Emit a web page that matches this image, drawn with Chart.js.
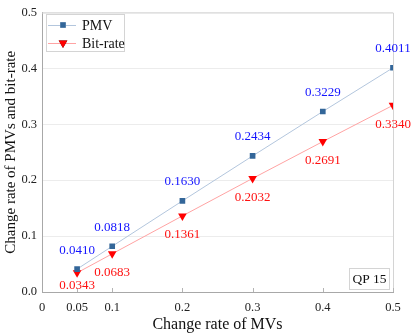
<!DOCTYPE html>
<html>
<head>
<meta charset="utf-8">
<script src="https://cdn.jsdelivr.net/npm/chart.js@4/dist/chart.umd.min.js"></script>
<style>
  html, body { margin: 0; padding: 0; background: #fff; }
  canvas { display: block; }
</style>
</head>
<body>
<canvas id="c" width="415" height="335"></canvas>
<script>
// data
const changeRateMV = [0.05, 0.1, 0.2, 0.3, 0.4, 0.5];
const pmvRate = [0.0410, 0.0818, 0.1630, 0.2434, 0.3229, 0.4011];
const bitRate = [0.0343, 0.0683, 0.1361, 0.2032, 0.2691, 0.3340];
const xTickValues = [0, 0.05, 0.1, 0.2, 0.3, 0.4, 0.5];
const xTickLabels = ["0", "0.05", "0.1", "0.2", "0.3", "0.4", "0.5"];
const yTickLabels = ["0.0", "0.1", "0.2", "0.3", "0.4", "0.5"];
const seriesNames = ["PMV", "Bit-rate"];
const boxLabel = "QP 15";

const SERIF = "'Liberation Serif', 'Times New Roman', serif";

// value labels above / below points, inward x ticks, frame, legend and QP box
const decorPlugin = {
  id: "decor",
  afterDatasetsDraw(chart) {
    const ctx = chart.ctx;
    const area = chart.chartArea;
    const xs = chart.scales.x;

    ctx.save();
    // frame: top and right light, left/bottom handled by axis borders
    ctx.strokeStyle = "#d4d4d4";
    ctx.lineWidth = 1;
    ctx.beginPath();
    ctx.moveTo(area.left, area.top + 0.5);
    ctx.lineTo(area.right + 0.5, area.top + 0.5);
    ctx.lineTo(area.right + 0.5, area.bottom);
    ctx.stroke();

    // inward tick marks on the x axis
    ctx.strokeStyle = "#b4b4b4";
    xTickValues.forEach(v => {
      if (v === 0) return;
      const px = Math.round(xs.getPixelForValue(v)) + 0.5;
      ctx.beginPath();
      ctx.moveTo(px, area.bottom);
      ctx.lineTo(px, area.bottom - 4);
      ctx.stroke();
    });

    // value labels
    ctx.font = "13px " + SERIF;
    ctx.textAlign = "center";
    ctx.textBaseline = "middle";
    chart.data.datasets.forEach((ds, di) => {
      const meta = chart.getDatasetMeta(di);
      meta.data.forEach((pt, i) => {
        const txt = ds.data[i].y.toFixed(4);
        let y;
        if (di === 0) {
          ctx.fillStyle = "#1414ff";
          y = pt.y - 19;
        } else {
          ctx.fillStyle = "#ff1010";
          y = Math.min(pt.y + 19, area.bottom - 6);
        }
        ctx.fillText(txt, pt.x, y);
      });
    });

    // legend box
    const lx = area.left + 4, ly = area.top + 1.5;
    ctx.fillStyle = "#fff";
    ctx.fillRect(lx, ly, 78, 37);
    ctx.strokeStyle = "#d4d4d4";
    ctx.strokeRect(lx + 0.5, ly + 0.5, 78, 37);
    ctx.font = "14px " + SERIF;
    ctx.textAlign = "left";
    chart.data.datasets.forEach((ds, di) => {
      const ry = ly + 11 + di * 18;
      ctx.strokeStyle = ds.borderColor;
      ctx.lineWidth = 1;
      ctx.beginPath();
      ctx.moveTo(lx + 2, ry + 0.5);
      ctx.lineTo(lx + 30, ry + 0.5);
      ctx.stroke();
      Chart.helpers.drawPoint(ctx, {
        pointStyle: ds.pointStyle,
        radius: ds.pointRadius,
        rotation: ds.pointRotation || 0,
        borderWidth: 0
      }, lx + 17, ry);
      ctx.fillStyle = ds.pointBackgroundColor;
      ctx.fill();
      ctx.fillStyle = "#111";
      ctx.fillText(seriesNames[di], lx + 36, ry + 1);
    });

    // QP box
    const bx = area.right - 44, by = area.bottom - 24;
    ctx.fillStyle = "#fff";
    ctx.fillRect(bx, by, 40, 21);
    ctx.strokeStyle = "#d4d4d4";
    ctx.strokeRect(bx + 0.5, by + 0.5, 40, 21);
    ctx.fillStyle = "#111";
    ctx.font = "13.5px " + SERIF;
    ctx.textAlign = "center";
    ctx.fillText(boxLabel, bx + 20.5, by + 11.5);
    ctx.restore();
  }
};

new Chart(document.getElementById("c"), {
  type: "line",
  data: {
    datasets: [
      {
        label: seriesNames[0],
        data: changeRateMV.map((x, i) => ({ x: x, y: pmvRate[i] })),
        borderColor: "#b3c6dd",
        borderWidth: 1,
        pointStyle: "rect",
        pointRadius: 4,
        pointBackgroundColor: "#336699",
        pointBorderWidth: 0,
        fill: false
      },
      {
        label: seriesNames[1],
        data: changeRateMV.map((x, i) => ({ x: x, y: bitRate[i] })),
        borderColor: "#ffa3a3",
        borderWidth: 1,
        pointStyle: "triangle",
        pointRotation: 180,
        pointRadius: 5,
        pointBackgroundColor: "#ff0000",
        pointBorderWidth: 0,
        fill: false
      }
    ]
  },
  options: {
    responsive: false,
    animation: false,
    devicePixelRatio: 1,
    layout: { padding: { top: 8, right: 22, left: 0, bottom: 0 } },
    plugins: {
      legend: { display: false },
      tooltip: { enabled: false }
    },
    scales: {
      x: {
        type: "linear",
        min: 0,
        max: 0.5,
        afterBuildTicks: s => { s.ticks = xTickValues.map(v => ({ value: v })); },
        afterFit: s => { s.height = 43; },
        grid: { display: false, drawTicks: false },
        border: { display: true, color: "#a8a8a8" },
        ticks: {
          padding: 8,
          color: "#222",
          font: { family: SERIF, size: 12.5 },
          callback: v => xTickLabels[xTickValues.indexOf(v)]
        },
        title: {
          display: true,
          text: "Change rate of MVs",
          color: "#111",
          font: { family: SERIF, size: 16 },
          padding: { top: 2, bottom: 1 }
        }
      },
      y: {
        min: 0,
        max: 0.5,
        afterFit: s => { s.width = 42; },
        grid: { color: "#ececec", drawTicks: false },
        border: { display: true, color: "#a8a8a8" },
        ticks: {
          stepSize: 0.1,
          padding: 5,
          color: "#222",
          font: { family: SERIF, size: 12.5 },
          callback: v => yTickLabels[Math.round(v * 10)]
        },
        title: {
          display: true,
          text: "Change rate of PMVs and bit-rate",
          color: "#111",
          font: { family: SERIF, size: 15 },
          padding: { top: 2, bottom: 2 }
        }
      }
    }
  },
  plugins: [decorPlugin]
});
</script>
</body>
</html>
